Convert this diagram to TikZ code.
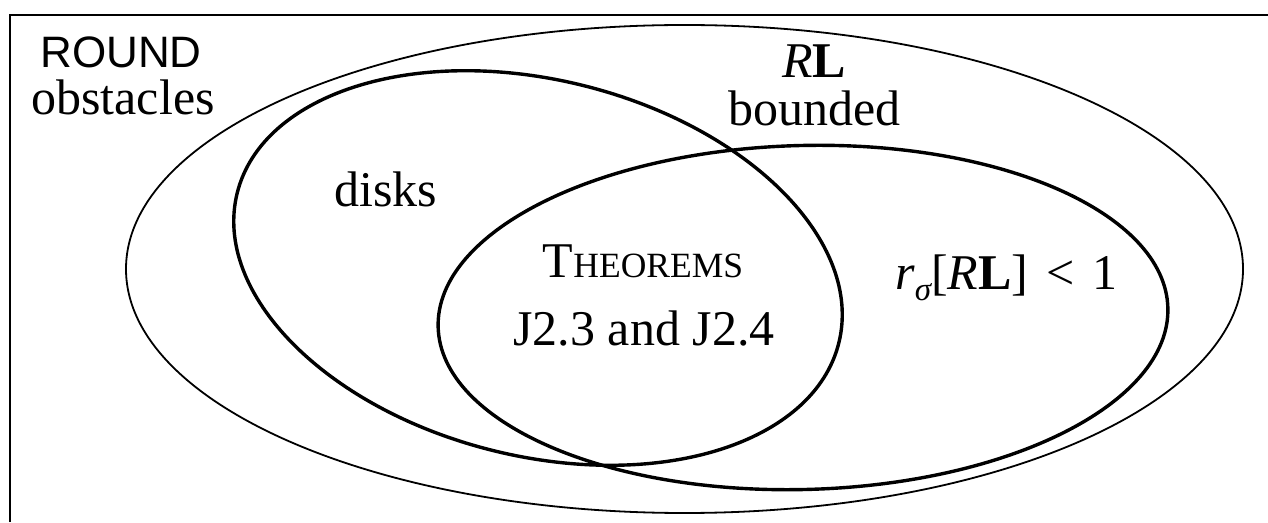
\documentclass[tikz,border=0pt]{standalone}
\usepackage{fontspec}
\setmainfont{Liberation Serif}
\setsansfont{Liberation Sans}
\begin{document}
\begin{tikzpicture}[x=1pt,y=1pt,
  thinring/.style={draw=black,line width=1.8pt},
  thickring/.style={draw=black,line width=3.4pt},
  framestyle/.style={draw=black,line width=2.8pt},
  lbl/.style={anchor=base,inner sep=0pt,font=\fontsize{50}{55}\selectfont},
  sanslbl/.style={anchor=base,inner sep=0pt,font=\sffamily\fontsize{44}{48}\selectfont}]
\useasboundingbox (0,0) rectangle (1268,522);
% frame (cut off at right and bottom)
\coordinate (fb) at (10,0);
\coordinate (fc) at (10,507);
\coordinate (fr) at (1268,507);
\draw[framestyle] (fb) -- (fc) -- (fr);
% outer ellipse: round obstacles / RL bounded
\draw[thinring] (684.5,253) ellipse [x radius=558.5, y radius=244];
% disks
\draw[thickring, rotate around={-14:(538,254)}] (538,254) ellipse [x radius=310, y radius=188];
% r_sigma[RL] < 1
\draw[thickring, rotate around={1.5:(803,204.5)}] (803,204.5) ellipse [x radius=365, y radius=172];
% labels
\node[sanslbl] (round) at (121,454) {ROUND};
\node[lbl] (obst) at (123,407) {obstacles};
\node[lbl] (rl) at (814,444) {\itshape R\bfseries\upshape L};
\node[lbl] (bnd) at (814.5,396) {bounded};
\node[lbl] (disks) at (386,315) {disks};
\node[lbl] (thm) at (643,244) {T{\fontsize{35.5}{40}\selectfont HEOREMS}};
\node[lbl] (j) at (644,176) {J2.3 and J2.4};
\node[lbl] (rs) at (1006.5,232) {{\itshape r}\raisebox{-11pt}{\fontsize{33}{36}\selectfont\itshape σ}[{\itshape R}{\bfseries L}]\hspace{18pt}<\hspace{18pt}1};
\end{tikzpicture}
\end{document}
